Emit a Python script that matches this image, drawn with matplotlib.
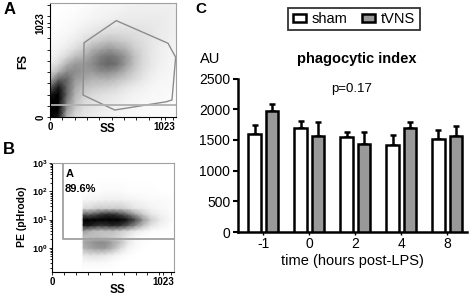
# flow cytometry gating (A, B) and phagocytic index bars (C)
import numpy as np
import matplotlib.pyplot as plt
from matplotlib.ticker import MultipleLocator, LogLocator, NullFormatter
from matplotlib.patches import Polygon, Patch

plt.rcParams['font.family'] = ['Liberation Sans', 'DejaVu Sans']
plt.rcParams['mathtext.fontset'] = 'custom'
plt.rcParams['mathtext.rm'] = 'Liberation Sans'
plt.rcParams['mathtext.bf'] = 'Liberation Sans:bold'

W, H = 472, 296

# ---- panel C data ----
times = ['-1', '0', '2', '4', '8']
sham = [1600, 1700, 1555, 1420, 1515]
sham_err = [150, 110, 80, 160, 140]
tvns = [1970, 1570, 1435, 1700, 1560]
tvns_err = [110, 215, 200, 95, 170]

# ---- panel A: FS vs SS, gate polygon and density (0-10) ----
gate_a_x = [304, 592, 1054, 1122, 1089, 1039, 578, 295]
gate_a_y = [808, 1048, 802, 650, 185, 166, 76, 239]
fs_cut = 131
a_x = np.linspace(0, 1125, 16)
a_y = np.linspace(0, 1240, 16)
# rows from bottom to top
a_density = [
    [10, 9, 3, 1.5, 1, 0.8, 0.6, 0.5, 0.4, 0.3, 0.3, 0.2, 0.2, 0.2, 0.1, 0.1],
    [10, 10, 4, 2, 1.2, 1, 0.8, 0.6, 0.5, 0.4, 0.3, 0.3, 0.2, 0.2, 0.2, 0.1],
    [10, 10, 5, 2.5, 1.5, 1.2, 1, 0.8, 0.7, 0.5, 0.4, 0.3, 0.3, 0.2, 0.2, 0.1],
    [9, 10, 6, 3, 2, 1.5, 1.3, 1.1, 0.9, 0.7, 0.5, 0.4, 0.3, 0.3, 0.2, 0.2],
    [6, 9, 6, 3.5, 2.5, 2.2, 2, 1.8, 1.5, 1.1, 0.8, 0.6, 0.4, 0.3, 0.3, 0.2],
    [3, 6, 6, 4, 3.5, 3, 3, 3, 2.5, 2, 1.5, 1, 0.6, 0.4, 0.3, 0.3],
    [1.5, 3, 4.5, 4.5, 4, 4, 4.5, 4.5, 4, 3, 2, 1.3, 0.8, 0.5, 0.4, 0.3],
    [0.8, 1.5, 3, 4, 4, 4.5, 5.5, 6, 5.5, 4, 2.5, 1.5, 1, 0.6, 0.4, 0.3],
    [0.5, 0.8, 1.5, 2.5, 3, 4, 5, 5.5, 5, 4, 2.5, 1.6, 1, 0.7, 0.5, 0.4],
    [0.3, 0.5, 0.8, 1.3, 2, 3, 3.5, 4, 3.5, 3, 2, 1.5, 1, 0.7, 0.5, 0.4],
    [0.2, 0.3, 0.5, 0.8, 1.2, 1.8, 2.2, 2.5, 2.3, 2, 1.6, 1.3, 1, 0.8, 0.6, 0.5],
    [0.1, 0.2, 0.3, 0.5, 0.8, 1, 1.3, 1.5, 1.5, 1.4, 1.3, 1.1, 1, 0.8, 0.7, 0.6],
    [0.1, 0.1, 0.2, 0.3, 0.5, 0.7, 0.8, 1, 1, 1, 1, 1, 0.9, 0.8, 0.7, 0.6],
    [0, 0.1, 0.1, 0.2, 0.3, 0.4, 0.5, 0.6, 0.7, 0.8, 0.8, 0.8, 0.8, 0.8, 0.7, 0.6],
    [0, 0, 0.1, 0.1, 0.2, 0.3, 0.4, 0.5, 0.5, 0.6, 0.7, 0.7, 0.7, 0.7, 0.7, 0.6],
    [0, 0, 0, 0.1, 0.1, 0.2, 0.3, 0.4, 0.4, 0.5, 0.5, 0.6, 0.6, 0.6, 0.6, 0.5],
]

# ---- panel B: PE (log) vs SS ----
gate_b_x = 99
gate_b_y = 2.1
b_x = [0, 100, 200, 275, 290, 350, 420, 490, 560, 630, 700, 770, 840, 910, 1000, 1125]
b_logy = [-0.85, -0.5, -0.25, 0, 0.2, 0.4, 0.6, 0.8, 1.0, 1.2, 1.4, 1.7, 2.0, 2.5, 3.0]
b_density = [
    [0, 0, 0, 0, 0, 0, 0, 0, 0, 0, 0, 0, 0, 0, 0, 0],
    [0, 0, 0, 0, 0.3, 0.3, 0.3, 0.2, 0.1, 0, 0, 0, 0, 0, 0, 0],
    [0, 0, 0, 0, 1, 1.2, 1.2, 1, 0.6, 0.3, 0.1, 0, 0, 0, 0, 0],
    [0, 0, 0, 0, 3, 3.5, 4, 4, 3, 1.5, 0.5, 0.2, 0, 0, 0, 0],
    [0, 0, 0, 0, 3.5, 4, 4.5, 4.5, 3.5, 2.5, 1, 0.3, 0.1, 0, 0, 0],
    [0, 0, 0, 0, 2.5, 2.5, 2.5, 2.2, 2, 1.5, 0.8, 0.3, 0.1, 0, 0, 0],
    [0, 0, 0, 0, 4, 3, 2.5, 2.5, 2.5, 2, 1.5, 0.8, 0.5, 0.2, 0.1, 0],
    [0, 0, 0, 0, 9, 9, 8, 8, 8.5, 8, 6.5, 4.5, 2.5, 1.2, 0.5, 0],
    [0, 0, 0, 0, 10, 10, 10, 10, 10, 10, 9, 7, 4, 2, 0.8, 0.1],
    [0, 0, 0, 0, 6, 6, 7, 8, 8, 7, 5.5, 3.5, 2, 1, 0.5, 0.1],
    [0, 0, 0, 0, 1.5, 1.5, 2, 2, 2, 2, 1.5, 1, 0.8, 0.5, 0.3, 0.1],
    [0, 0, 0, 0, 0.3, 0.4, 0.5, 0.6, 0.6, 0.6, 0.5, 0.4, 0.3, 0.2, 0.2, 0.1],
    [0, 0, 0, 0, 0, 0.1, 0.1, 0.2, 0.2, 0.2, 0.1, 0.1, 0.1, 0.1, 0, 0],
    [0, 0, 0, 0, 0, 0, 0, 0, 0, 0, 0, 0, 0, 0, 0, 0],
    [0, 0, 0, 0, 0, 0, 0, 0, 0, 0, 0, 0, 0, 0, 0, 0],
]


def box(l, t, r, b):
    # pixel box -> figure fraction rect
    return [l / W, 1 - b / H, (r - l) / W, (b - t) / H]


def ftext(x, y, s, **kw):
    fig.text(x / W, 1 - y / H, s, **kw)


fig = plt.figure(figsize=(W / 100, H / 100), dpi=100)
gate_col = '#8c8c8c'

# ================= A =================
axA = fig.add_axes(box(50, 3, 176, 117))
X, Y = np.meshgrid(a_x, a_y)
axA.pcolormesh(X, Y, np.array(a_density), shading='gouraud', cmap='gray_r', vmin=0, vmax=10)
axA.add_patch(Polygon(np.column_stack([gate_a_x, gate_a_y]), closed=True, fill=False,
                      ec=gate_col, lw=1))
axA.axhline(fs_cut, color='#b0b0b0', lw=1.3)
axA.set_xlim(0, 1125)
axA.set_ylim(0, 1240)
axA.set_xticks([0, 1023])
axA.set_yticks([0, 1023])
axA.set_xticklabels(['0', '1023'], fontsize=7, fontweight='bold')
axA.set_yticklabels(['0', '1023'], fontsize=7, fontweight='bold', rotation=90, va='center')
axA.xaxis.set_minor_locator(MultipleLocator(110))
axA.yaxis.set_minor_locator(MultipleLocator(122))
axA.tick_params(which='both', length=2.5, width=0.6, direction='out', pad=1)
for s in ['top', 'right']:
    axA.spines[s].set_color('#a0a0a0')
for s in ['left', 'bottom']:
    axA.spines[s].set_linewidth(0.8)
ftext(23, 61, 'FS', fontsize=8.5, fontweight='bold', rotation=90, ha='center', va='center')
ftext(108, 129, 'SS', fontsize=8.5, fontweight='bold', ha='center', va='center')
ftext(10, 9, 'A', fontsize=12, fontweight='bold', ha='center', va='center')

# ================= B =================
axB = fig.add_axes(box(52, 163, 174, 272))
axB.set_yscale('log')
Xb, Yb = np.meshgrid(b_x, 10 ** np.array(b_logy))
axB.pcolormesh(Xb, Yb, np.array(b_density), shading='gouraud', cmap='gray_r', vmin=0, vmax=10)
axB.plot([gate_b_x, gate_b_x, 1125], [1000, gate_b_y, gate_b_y], color='#a0a0a0', lw=1.3)
axB.set_xlim(0, 1125)
axB.set_ylim(10 ** -0.85, 1000)
axB.set_xticks([0, 1023])
axB.set_xticklabels(['0', '1023'], fontsize=7, fontweight='bold')
axB.set_yticks([1, 10, 100, 1000])
axB.set_yticklabels([r'$\mathbf{10^{0}}$', r'$\mathbf{10^{1}}$', r'$\mathbf{10^{2}}$',
                     r'$\mathbf{10^{3}}$'], fontsize=6.5)
axB.yaxis.set_minor_locator(LogLocator(base=10, subs=np.arange(2, 10)))
axB.yaxis.set_minor_formatter(NullFormatter())
axB.xaxis.set_minor_locator(MultipleLocator(110))
axB.tick_params(which='both', length=2.5, width=0.6, direction='out', pad=1)
axB.tick_params(which='minor', axis='y', length=1.5)
for s in ['top', 'right']:
    axB.spines[s].set_color('#a0a0a0')
for s in ['left', 'bottom']:
    axB.spines[s].set_linewidth(0.8)
ftext(66, 174, 'A', fontsize=8, fontweight='bold', ha='left', va='center')
ftext(65, 189, '89.6%', fontsize=8, fontweight='bold', ha='left', va='center')
ftext(22, 217, 'PE (pHrodo)', fontsize=7.5, fontweight='bold', rotation=90, ha='center', va='center')
ftext(118, 290, 'SS', fontsize=8.5, fontweight='bold', ha='center', va='center')
ftext(9, 149, 'B', fontsize=12, fontweight='bold', ha='center', va='center')

# ================= C =================
axC = fig.add_axes(box(238, 78.5, 467, 232))
x = np.arange(len(times))
off, bw = 0.19, 0.27
axC.bar(x - off, sham, bw, color='white', edgecolor='black', lw=1.8, zorder=3)
axC.bar(x + off, tvns, bw, color='#999999', edgecolor='black', lw=1.8, zorder=3)
axC.errorbar(x - off, sham, yerr=[np.zeros(len(times)), sham_err], fmt='none', ecolor='black',
             elinewidth=1.8, capsize=2.5, capthick=1.8, zorder=2)
axC.errorbar(x + off, tvns, yerr=[np.zeros(len(times)), tvns_err], fmt='none', ecolor='black',
             elinewidth=1.8, capsize=2.5, capthick=1.8, zorder=2)
axC.set_xlim(-0.55, 4.43)
axC.set_ylim(0, 2500)
axC.set_yticks(np.arange(0, 2501, 500))
axC.set_xticks(x)
axC.set_xticklabels(times)
axC.tick_params(axis='y', labelsize=10, length=3.5, width=1.5, pad=2)
axC.tick_params(axis='x', labelsize=10, length=2, width=1, pad=1.5)
axC.spines['top'].set_visible(False)
axC.spines['right'].set_visible(False)
axC.spines['left'].set_linewidth(1.8)
axC.spines['bottom'].set_linewidth(1.8)
axC.set_xlabel('time (hours post-LPS)', fontsize=10.5, labelpad=2.5)

handles = [Patch(fc='white', ec='black', lw=1.8, label='sham'),
           Patch(fc='#999999', ec='black', lw=1.8, label='tVNS')]
leg = fig.legend(handles=handles, loc='center', bbox_to_anchor=(354 / W, 1 - 19 / H), ncol=2,
                 fontsize=10.5, frameon=True, fancybox=False, edgecolor='black',
                 handlelength=0.9, handleheight=0.45, handletextpad=0.4, columnspacing=1.0,
                 borderpad=0.3)
leg.get_frame().set_linewidth(1.3)

ftext(210, 59, 'AU', fontsize=10.5, ha='center', va='center')
ftext(357, 59, 'phagocytic index', fontsize=10.5, fontweight='bold', ha='center', va='center')
ftext(352, 89, 'p=0.17', fontsize=9.5, ha='center', va='center')
ftext(201, 9, 'C', fontsize=11, fontweight='bold', ha='center', va='center')

fig.savefig('out.png', dpi=100)
